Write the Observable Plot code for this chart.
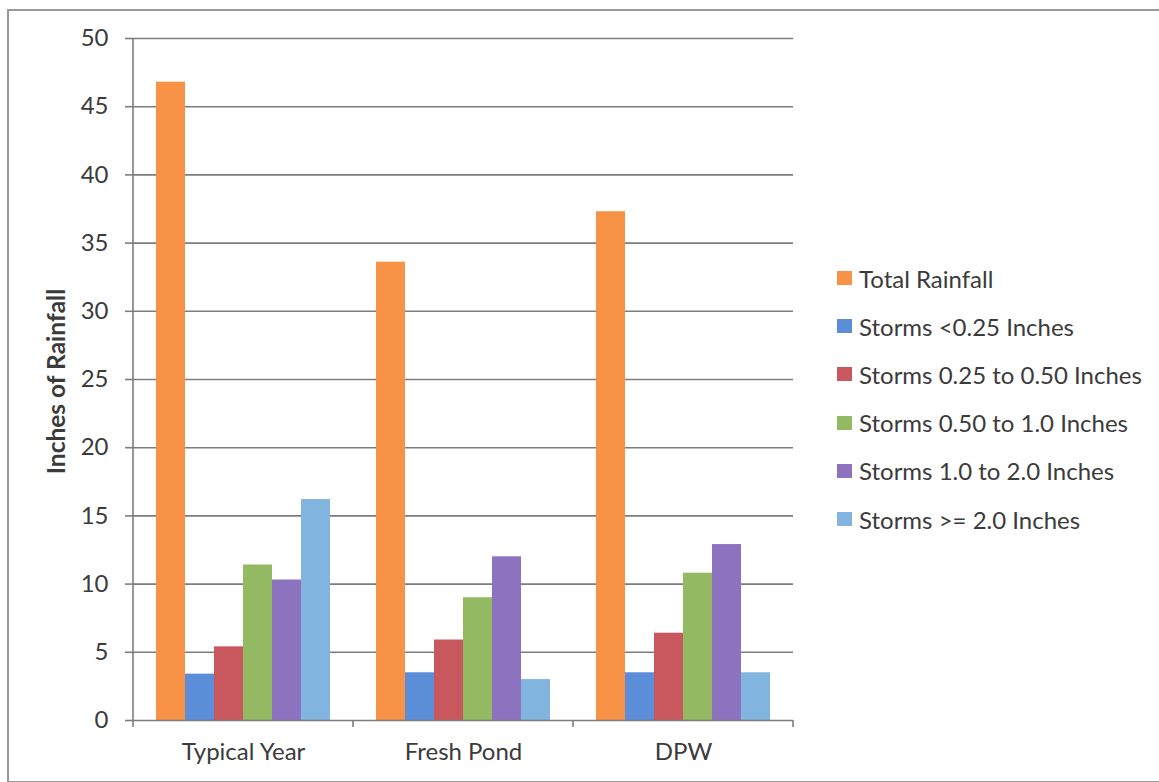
<!DOCTYPE html>
<html>
<head>
<meta charset="utf-8">
<script src="https://cdn.jsdelivr.net/npm/d3@7"></script>
<script src="https://cdn.jsdelivr.net/npm/@observablehq/plot@0.6"></script>
<style>
  html, body { margin: 0; padding: 0; background: #fff; }
  #wrap { position: relative; width: 1159px; height: 782px; overflow: hidden; font-family: Lato, "Open Sans", sans-serif; }
  #frame { position: absolute; left: 7px; top: 9px; width: 1200px; height: 770px; border: 2px solid #9a9a9a; pointer-events: none; }
  #legend { position: absolute; left: 837px; top: 254px; }
  .row { display: flex; align-items: center; height: 48.2px; font-size: 24px; color: #3b3b3b; }
  .sw { width: 15px; height: 14px; margin-right: 7px; }
</style>
</head>
<body>
<div id="wrap"><div id="frame"></div><div id="legend"></div></div>
<script>
// Locations compared
const groups = ["Typical Year", "Fresh Pond", "DPW"];

// Rainfall series
const series = [
  "Total Rainfall",
  "Storms <0.25 Inches",
  "Storms 0.25 to 0.50 Inches",
  "Storms 0.50 to 1.0 Inches",
  "Storms 1.0 to 2.0 Inches",
  "Storms >= 2.0 Inches"
];
const colors = ["#f79247", "#5b8dd8", "#c9575e", "#93ba62", "#8c72bf", "#82b4e0"];

// Inches of rainfall per location
const totalRainfall   = [46.8, 33.6, 37.3];
const stormsUnder025  = [3.4, 3.5, 3.5];
const storms025to050  = [5.4, 5.9, 6.4];
const storms050to10   = [11.4, 9.0, 10.8];
const storms10to20    = [10.3, 12.0, 12.9];
const storms20andUp   = [16.2, 3.0, 3.5];

const yTicks = [0, 5, 10, 15, 20, 25, 30, 35, 40, 45, 50];

const seriesValues = [totalRainfall, stormsUnder025, storms025to050, storms050to10, storms10to20, storms20andUp];
const rows = [];
groups.forEach((g, gi) => {
  series.forEach((s, si) => rows.push({group: g, series: s, value: seriesValues[si][gi]}));
});

const ink = "#3b3b3b";
const gridColor = "#7d7d7d";

const plot = Plot.plot({
  width: 1159,
  height: 782,
  marginLeft: 133,
  marginRight: 366,
  marginTop: 38,
  marginBottom: 62,
  style: {fontFamily: "Lato, 'Open Sans', sans-serif", fontSize: "24px", color: ink, background: "transparent"},
  fx: {domain: groups, padding: 0, axis: null},
  x: {domain: series, paddingInner: 0, paddingOuter: 0.77, axis: null},
  y: {domain: [0, 50], axis: null},
  color: {domain: series, range: colors},
  marks: [
    Plot.gridY(yTicks.filter(t => t > 0), {stroke: gridColor, strokeOpacity: 1, strokeWidth: 1.6}),
    Plot.axisY(yTicks, {tickSize: 8, tickPadding: 17, stroke: gridColor, strokeWidth: 1.6, fill: ink, fontSize: 24, label: null}),
    Plot.barY(rows, {fx: "group", x: "series", y: "value", fill: "series"}),
    Plot.ruleY([0], {stroke: gridColor, strokeWidth: 1.6}),
    Plot.axisFx({anchor: "bottom", tickSize: 0, tickPadding: 22, fill: ink, fontSize: 24, label: null}),
    Plot.text(["Inches of Rainfall"], {
      fx: () => groups[0], frameAnchor: "left", textAnchor: "middle", rotate: -90, dx: -76, dy: 2,
      fontWeight: "bold", fontSize: 24.5, fill: ink
    })
  ]
});

document.getElementById("wrap").appendChild(plot);
plot.style.position = "absolute";
plot.style.left = "0px";
plot.style.top = "0px";

// Y axis line and category boundary ticks, placed from the plot's own scales
const fxs = plot.scale("fx");
const ys = plot.scale("y");
const fx = d3.scaleBand().domain(fxs.domain).range(fxs.range)
  .paddingInner(fxs.paddingInner ?? 0).paddingOuter(fxs.paddingOuter ?? 0)
  .align(fxs.align ?? 0.5);
const y = d3.scaleLinear().domain(ys.domain).range(ys.range);
const svg = d3.select(plot);
const g = svg.append("g").attr("stroke", gridColor).attr("stroke-width", 1.6);
const x0 = fx(groups[0]);
g.append("line").attr("x1", x0).attr("x2", x0).attr("y1", y(50)).attr("y2", y(0) + 7);
groups.forEach(gr => {
  const xr = fx(gr) + fx.bandwidth();
  g.append("line").attr("x1", xr).attr("x2", xr).attr("y1", y(0)).attr("y2", y(0) + 7);
});

// Legend
const legend = d3.select("#legend");
series.forEach((s, i) => {
  const r = legend.append("div").attr("class", "row");
  r.append("div").attr("class", "sw").style("background", colors[i]);
  r.append("span").text(s);
});
</script>
</body>
</html>
